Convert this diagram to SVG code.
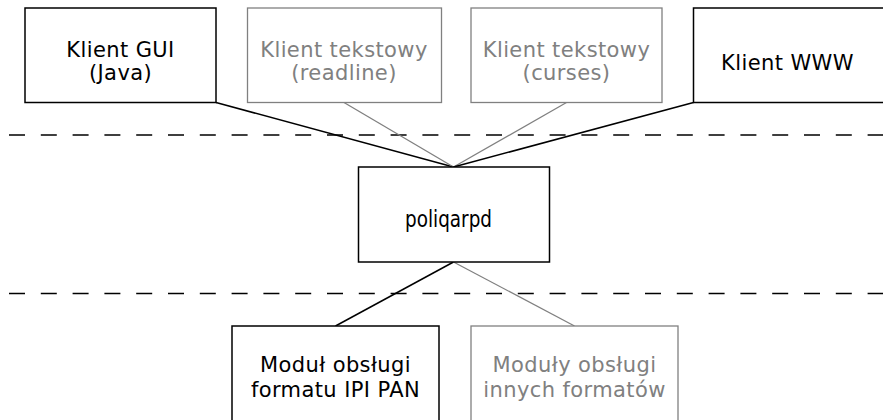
<svg xmlns="http://www.w3.org/2000/svg" width="883" height="420" viewBox="0 0 883 420">
<style>
.box{fill:#fff;stroke:#000;stroke-width:1.5}
.gbox{fill:#fff;stroke:#808080;stroke-width:1.3}
.t{font-family:"DejaVu Sans",sans-serif;font-size:21px;letter-spacing:0.4px;fill:#000;text-anchor:middle}
.gt{font-family:"DejaVu Sans",sans-serif;font-size:21px;letter-spacing:0.4px;fill:#808080;text-anchor:middle}
.c{stroke:#000;stroke-width:1.5;fill:none}
.gc{stroke:#808080;stroke-width:1.3;fill:none}
.dash{stroke:#000;stroke-width:1.5;stroke-dasharray:16 15.8;fill:none}
</style>
<g id="separators">
<line class="dash" x1="9" y1="135" x2="883" y2="135"/>
<line class="dash" x1="9" y1="293.5" x2="883" y2="293.5"/>
</g>
<g id="connectors">
<line class="c" x1="216" y1="102.5" x2="453.5" y2="167"/>
<line class="gc" x1="344" y1="102.5" x2="453.5" y2="167"/>
<line class="gc" x1="566.5" y1="102.5" x2="453.5" y2="167"/>
<line class="c" x1="693.5" y1="102.5" x2="453.5" y2="167"/>
<line class="c" x1="453.5" y1="262" x2="335.5" y2="326"/>
<line class="gc" x1="453.5" y1="262" x2="574.5" y2="326"/>
</g>
<g id="gui">
<rect class="box" x="25" y="8" width="191" height="94.5"/>
<text class="t" x="120.5" y="57">Klient GUI</text>
<text class="t" x="120.5" y="80">(Java)</text>
</g>
<g id="readline">
<rect class="gbox" x="247.5" y="8" width="194" height="94.5"/>
<text class="gt" x="344" y="57">Klient tekstowy</text>
<text class="gt" x="344" y="80">(readline)</text>
</g>
<g id="curses">
<rect class="gbox" x="471" y="8" width="191" height="94.5"/>
<text class="gt" x="566.5" y="57">Klient tekstowy</text>
<text class="gt" x="566.5" y="80">(curses)</text>
</g>
<g id="www">
<rect class="box" x="693.5" y="8" width="200" height="94.5"/>
<text class="t" x="787.5" y="70">Klient WWW</text>
</g>
<g id="poliqarpd">
<rect class="box" x="358.5" y="167" width="191" height="95"/>
<text x="448.5" y="227" textLength="87" lengthAdjust="spacingAndGlyphs" style="font-family:'DejaVu Sans Condensed','DejaVu Sans',sans-serif;font-stretch:condensed;font-size:23px;text-anchor:middle;fill:#000">poliqarpd</text>
</g>
<g id="ipipan">
<rect class="box" x="232" y="326" width="207" height="110"/>
<text class="t" x="335.5" y="372">Moduł obsługi</text>
<text class="t" x="335.5" y="397">formatu IPI PAN</text>
</g>
<g id="others">
<rect class="gbox" x="471" y="326" width="207" height="110"/>
<text class="gt" x="574.5" y="372">Moduły obsługi</text>
<text class="gt" x="574.5" y="397">innych formatów</text>
</g>
</svg>
